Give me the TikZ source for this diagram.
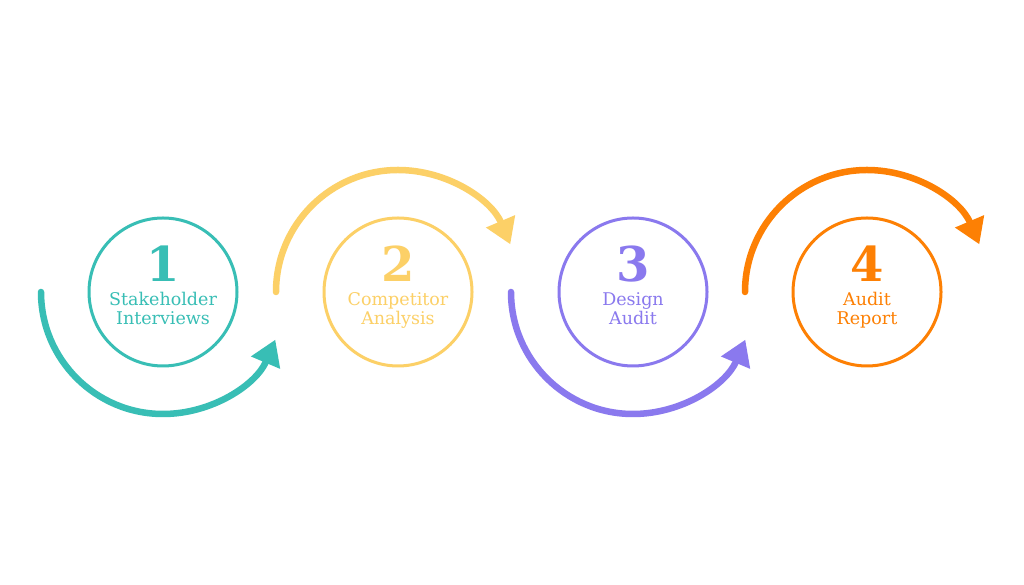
\documentclass[tikz,border=0pt]{standalone}
\usepackage{fontspec}
\setmainfont{DejaVu Serif}
\usetikzlibrary{arrows.meta,calc}
\definecolor{cteal}{HTML}{38BEB5}
\definecolor{cyellow}{HTML}{FCD067}
\definecolor{cpurple}{HTML}{8A79EE}
\definecolor{corange}{HTML}{FD8004}
\begin{document}
\begin{tikzpicture}[x=1pt,y=1pt,
  stepcircle/.style={circle,draw=#1,line width=3pt,minimum size=148pt,inner sep=0pt},
  stepnum/.style={text=#1,font=\fontsize{48}{48}\selectfont\bfseries,anchor=base,inner sep=0pt},
  steplabel/.style={text=#1,font=\fontsize{17.5}{19}\selectfont,align=center,anchor=base,inner sep=0pt},
  flow/.style={draw=#1,line width=6.5pt,line cap=round,-{Triangle[length=25pt,width=30pt]}}]
\useasboundingbox (0,0) rectangle (1024,585);
\fill[white] (0,0) rectangle (1024,585);
% circles
\node[stepcircle=cteal] (c1) at (163,293) {};
\node[stepcircle=cyellow] (c2) at (398,293) {};
\node[stepcircle=cpurple] (c3) at (633,293) {};
\node[stepcircle=corange] (c4) at (867,293) {};
% numbers
\node[stepnum=cteal] (n1) at (163,303) {1};
\node[stepnum=cyellow] (n2) at (398,303) {2};
\node[stepnum=cpurple] (n3) at (633,303) {3};
\node[stepnum=corange] (n4) at (867,303) {4};
% labels
\node[steplabel=cteal] (l1) at (163,279) {Stakeholder};
\node[steplabel=cteal] (m1) at (163,260) {Interviews};
\node[steplabel=cyellow] (l2) at (398,279) {Competitor};
\node[steplabel=cyellow] (m2) at (398,260) {Analysis};
\node[steplabel=cpurple] (l3) at (633,279) {Design};
\node[steplabel=cpurple] (m3) at (633,260) {Audit};
\node[steplabel=corange] (l4) at (867,279) {Audit};
\node[steplabel=corange] (m4) at (867,260) {Report};
% arcs
\coordinate (s1) at ($(c1.center)+(-122,0)$);
\coordinate (s2) at ($(c2.center)+(-122,0)$);
\coordinate (s3) at ($(c3.center)+(-122,0)$);
\coordinate (s4) at ($(c4.center)+(-122,0)$);
\draw[flow=cteal] (s1) arc[start angle=180,end angle=337,radius=122];
\draw[flow=cyellow] (s2) arc[start angle=180,end angle=23,radius=122];
\draw[flow=cpurple] (s3) arc[start angle=180,end angle=337,radius=122];
\draw[flow=corange] (s4) arc[start angle=180,end angle=23,radius=122];
\end{tikzpicture}
\end{document}
